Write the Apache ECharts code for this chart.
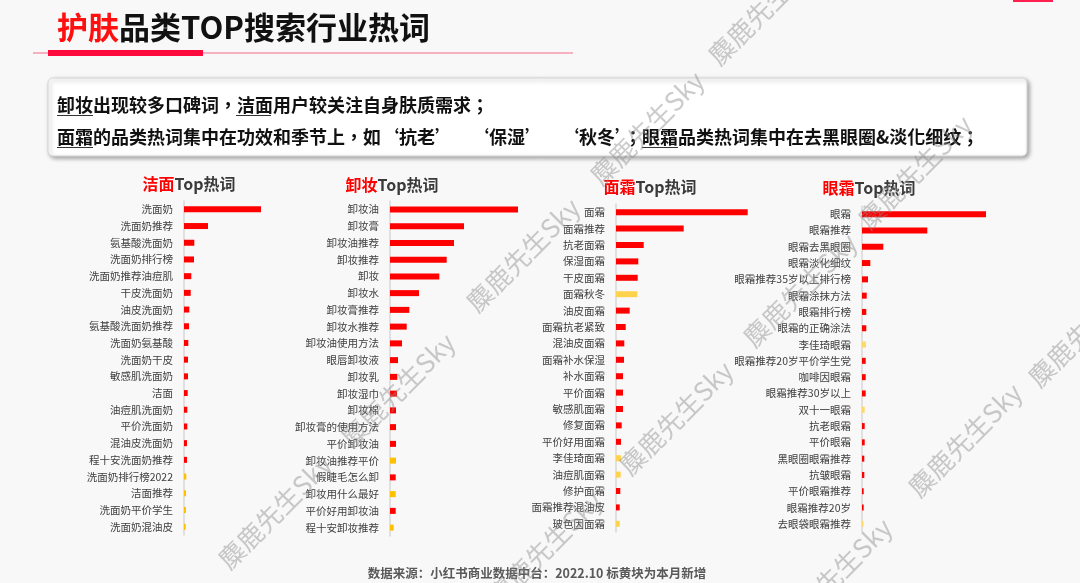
<!DOCTYPE html>
<html>
<head>
<meta charset="utf-8">
<title>护肤品类TOP搜索行业热词</title>
<script src="https://cdn.jsdelivr.net/npm/echarts@6/dist/echarts.min.js"></script>
<style>
  html, body { margin: 0; padding: 0; background: #f8f8f8; }
  #chart { width: 1080px; height: 583px; }
</style>
</head>
<body>
<div id="chart"></div>
<script>
// 四个品类 Top20 热词，数值为相对搜索热度（按柱长估读）
// isNew = 1 表示本月新增（黄块）
const cleanserWords = ['洗面奶', '洗面奶推荐', '氨基酸洗面奶', '洗面奶排行榜', '洗面奶推荐油痘肌', '干皮洗面奶', '油皮洗面奶', '氨基酸洗面奶推荐', '洗面奶氨基酸', '洗面奶干皮', '敏感肌洗面奶', '洁面', '油痘肌洗面奶', '平价洗面奶', '混油皮洗面奶', '程十安洗面奶推荐', '洗面奶排行榜2022', '洁面推荐', '洗面奶平价学生', '洗面奶混油皮']
const cleanserValues = [77, 24, 10.3, 10, 7.3, 6.7, 5.3, 5, 4.3, 4, 4, 3.7, 3.3, 3.3, 3, 3, 2.3, 2, 2, 1.7]
const cleanserNew = [0, 0, 0, 0, 0, 0, 0, 0, 0, 0, 0, 0, 0, 0, 0, 0, 1, 1, 1, 1]

const removerWords = ['卸妆油', '卸妆膏', '卸妆油推荐', '卸妆推荐', '卸妆', '卸妆水', '卸妆膏推荐', '卸妆水推荐', '卸妆油使用方法', '眼唇卸妆液', '卸妆乳', '卸妆湿巾', '卸妆棉', '卸妆膏的使用方法', '平价卸妆油', '卸妆油推荐平价', '假睫毛怎么卸', '卸妆用什么最好', '平价好用卸妆油', '程十安卸妆推荐']
const removerValues = [128, 74, 64, 56.7, 49.3, 29, 19.3, 16.7, 12, 8, 7.3, 7, 6, 6, 6, 6, 5.7, 5.7, 5.7, 3.7]
const removerNew = [0, 0, 0, 0, 0, 0, 0, 0, 0, 0, 0, 0, 0, 0, 0, 1, 0, 1, 0, 1]

const creamWords = ['面霜', '面霜推荐', '抗老面霜', '保湿面霜', '干皮面霜', '面霜秋冬', '油皮面霜', '面霜抗老紧致', '混油皮面霜', '面霜补水保湿', '补水面霜', '平价面霜', '敏感肌面霜', '修复面霜', '平价好用面霜', '李佳琦面霜', '油痘肌面霜', '修护面霜', '面霜推荐混油皮', '玻色因面霜']
const creamValues = [131.7, 67.7, 27.7, 22.3, 21.7, 21.3, 13.7, 9.7, 8.3, 8, 7, 7, 7, 5.7, 5, 5, 4.7, 4.3, 3.7, 3.7]
const creamNew = [0, 0, 0, 0, 0, 1, 0, 0, 0, 0, 0, 0, 0, 0, 0, 1, 1, 0, 0, 1]

const eyeWords = ['眼霜', '眼霜推荐', '眼霜去黑眼圈', '眼霜淡化细纹', '眼霜推荐35岁以上排行榜', '眼霜涂抹方法', '眼霜排行榜', '眼霜的正确涂法', '李佳琦眼霜', '眼霜推荐20岁平价学生党', '咖啡因眼霜', '眼霜推荐30岁以上', '双十一眼霜', '抗老眼霜', '平价眼霜', '黑眼圈眼霜推荐', '抗皱眼霜', '平价眼霜推荐', '眼霜推荐20岁', '去眼袋眼霜推荐']
const eyeValues = [124, 65.3, 21.3, 8.3, 6, 4.7, 4.3, 4.3, 4, 3.7, 3.7, 3.7, 2.7, 2.7, 2.7, 2.3, 2.3, 1.7, 1.7, 1.5]
const eyeNew = [0, 0, 0, 0, 0, 0, 0, 0, 1, 0, 0, 0, 1, 0, 0, 0, 0, 0, 0, 1]

const panelTitles = [['洁面', 'Top热词'], ['卸妆', 'Top热词'], ['面霜', 'Top热词'], ['眼霜', 'Top热词']]

const RED = '#ff0000'
const CJK = "'Noto Sans CJK SC', sans-serif"
const CJK_TC = "'Noto Sans CJK TC', sans-serif"

// 每个面板的位置（像素）
const panels = [
  { words: cleanserWords, values: cleanserValues, isNew: cleanserNew, yellow: '#ffc000', left: 184, top: 201, height: 334, width: 100, max: 100, titleX: 184, titleY: 171 },
  { words: removerWords, values: removerValues, isNew: removerNew, yellow: '#ffc000', left: 390, top: 201, height: 335, width: 140, max: 140, titleX: 387, titleY: 172 },
  { words: creamWords, values: creamValues, isNew: creamNew, yellow: '#ffd24d', left: 616, top: 204, height: 328, width: 140, max: 140, titleX: 645, titleY: 174 },
  { words: eyeWords, values: eyeValues, isNew: eyeNew, yellow: '#ffd966', left: 862, top: 206, height: 326, width: 130, max: 130, titleX: 864, titleY: 175 }
]

// 水印中心点
const watermarks = [[765, 8], [647, 128], [915, 172], [523, 255], [398, 390], [676, 418], [800, 290], [965, 440], [275, 512], [545, 548], [835, 575], [1085, 330]]

const option = {
  backgroundColor: '#f8f8f8',
  animation: false,
  title: panels.map((p, i) => ({
    text: `{r|${panelTitles[i][0]}}{k|${panelTitles[i][1]}}`,
    left: p.titleX,
    top: p.titleY,
    textAlign: 'center',
    textStyle: {
      rich: {
        r: { color: RED, fontSize: 16, fontWeight: 'bold', fontFamily: CJK },
        k: { color: '#3a3a3a', fontSize: 16, fontWeight: 'bold', fontFamily: CJK }
      }
    }
  })),
  grid: panels.map(p => ({ left: p.left, top: p.top, width: p.width, height: p.height, containLabel: false })),
  xAxis: panels.map((p, i) => ({
    type: 'value',
    gridIndex: i,
    min: 0,
    max: p.max,
    show: false
  })),
  yAxis: panels.map((p, i) => ({
    type: 'category',
    gridIndex: i,
    inverse: true,
    data: p.words,
    axisLine: { show: true, lineStyle: { color: '#d9d9d9', width: 1.5 } },
    axisTick: { show: false },
    axisLabel: { color: '#404040', fontSize: 10.5, margin: 11, fontFamily: CJK }
  })),
  series: panels.map((p, i) => ({
    type: 'bar',
    xAxisIndex: i,
    yAxisIndex: i,
    barWidth: 6,
    data: p.values.map((v, j) => ({ value: v, itemStyle: { color: p.isNew[j] ? p.yellow : RED } }))
  })),
  graphic: [
    // 顶部标题
    {
      type: 'text', x: 57, y: 27,
      style: {
        text: '{r|护肤}{k|品类TOP搜索行业热词}',
        verticalAlign: 'middle', textVerticalAlign: 'middle',
        rich: {
          r: { fill: '#ff1010', fontSize: 31, fontWeight: 'bold', fontFamily: CJK },
          k: { fill: '#111111', fontSize: 31, fontWeight: 'bold', fontFamily: CJK }
        }
      }
    },
    { type: 'line', shape: { x1: 33, y1: 53, x2: 573, y2: 53 }, style: { stroke: '#f26a86', lineWidth: 1 } },
    { type: 'rect', shape: { x: 48, y: 50, width: 155, height: 6 }, style: { fill: '#ff0a3c' } },
    { type: 'rect', shape: { x: 1013, y: 0, width: 40, height: 2 }, style: { fill: '#ff2050' } },
    // 结论文字框
    {
      type: 'rect', shape: { x: 48, y: 78, width: 979, height: 78, r: 5 },
      style: { fill: '#ffffff', stroke: '#d6d6d6', lineWidth: 1, shadowBlur: 4, shadowOffsetX: 2, shadowOffsetY: 2, shadowColor: 'rgba(0,0,0,0.35)' }
    },
    {
      type: 'text', x: 57, y: 105,
      style: {
        text: '卸妆出现较多口碑词，洁面用户较关注自身肤质需求；',
        fill: '#111', fontSize: 18, fontWeight: 'bold', fontFamily: CJK_TC,
        verticalAlign: 'middle', textVerticalAlign: 'middle'
      }
    },
    {
      type: 'text', x: 57, y: 137,
      style: {
        text: '面霜的品类热词集中在功效和季节上，如‘抗老’　‘保湿’　‘秋冬’；眼霜品类热词集中在去黑眼圈&淡化细纹；',
        fill: '#111', fontSize: 18, fontWeight: 'bold', fontFamily: CJK_TC,
        verticalAlign: 'middle', textVerticalAlign: 'middle'
      }
    },
    { type: 'line', shape: { x1: 57, y1: 115.5, x2: 93, y2: 115.5 }, style: { stroke: '#333', lineWidth: 1 } },
    { type: 'line', shape: { x1: 236, y1: 115.5, x2: 271, y2: 115.5 }, style: { stroke: '#333', lineWidth: 1 } },
    { type: 'line', shape: { x1: 57, y1: 147.5, x2: 93, y2: 147.5 }, style: { stroke: '#333', lineWidth: 1 } },
    { type: 'line', shape: { x1: 642, y1: 147.5, x2: 678, y2: 147.5 }, style: { stroke: '#333', lineWidth: 1 } },
    // 数据来源
    {
      type: 'text', x: 537, y: 573,
      style: {
        text: '数据来源：小红书商业数据中台：2022.10 标黄块为本月新增',
        fill: '#595959', fontSize: 12.5, fontWeight: 'bold', fontFamily: CJK,
        align: 'center', textAlign: 'center', verticalAlign: 'middle', textVerticalAlign: 'middle'
      }
    }
  ].concat(watermarks.map(([x, y]) => ({
    type: 'text', x, y, z: 100, rotation: Math.PI / 4, silent: true,
    style: {
      text: '麋鹿先生Sky',
      fill: 'rgba(140,140,140,0.45)', fontSize: 26, fontFamily: CJK,
      align: 'center', textAlign: 'center', verticalAlign: 'middle', textVerticalAlign: 'middle'
    }
  })))
}

const chart = echarts.init(document.getElementById('chart'))
chart.setOption(option)
window.addEventListener('resize', () => chart.resize())
</script>
</body>
</html>
